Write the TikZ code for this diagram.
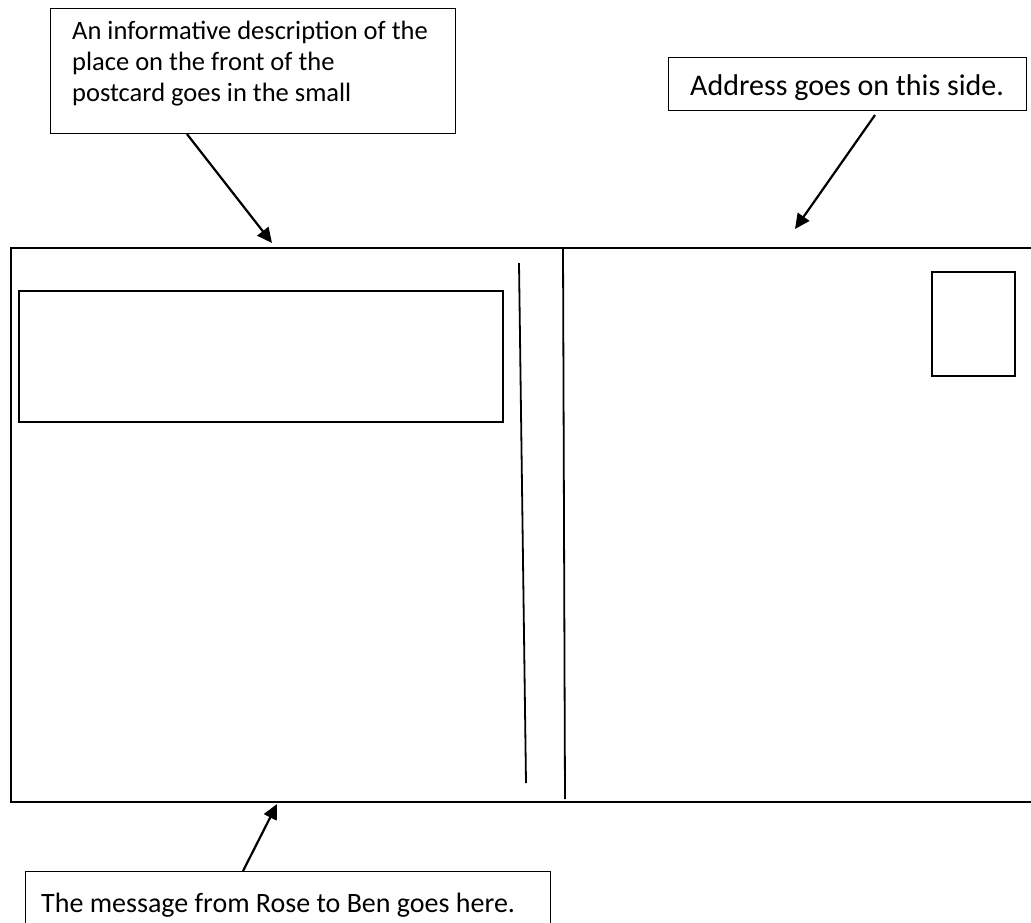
\documentclass[tikz,border=0pt]{standalone}
\usepackage{fontspec}
\setmainfont{Carlito}
\usetikzlibrary{arrows.meta,calc}
\begin{document}
\begin{tikzpicture}[x=1pt,y=-1pt,
  labelbox/.style={draw=black,line width=1.1pt,inner sep=0pt,anchor=north west},
  labeltext/.style={anchor=base west,inner sep=0pt},
  pointer/.style={line width=2.2pt,-{Triangle[length=15pt,width=14pt]}},
  cardline/.style={line width=2pt},
  thinline/.style={line width=1.8pt}]
\useasboundingbox (0,0) rectangle (1031,922);

% label boxes
\node[labelbox,minimum width=405pt,minimum height=125pt] (descbox) at (50,8) {};
\node[labeltext,font=\fontsize{26.5}{31}\selectfont] (desc1) at (72,39) {An informative description of the};
\node[labeltext,font=\fontsize{26.5}{31}\selectfont] (desc2) at (72,70) {place on the front of the};
\node[labeltext,font=\fontsize{26.5}{31}\selectfont] (desc3) at (72,101) {postcard goes in the small};

\node[labelbox,minimum width=358pt,minimum height=53pt] (addrbox) at (668,57) {};
\node[labeltext,font=\fontsize{30}{34}\selectfont] (addrtext) at (690,95) {Address goes on this side.};

\node[labelbox,minimum width=525pt,minimum height=90pt] (msgbox) at (25,871) {};
\node[labeltext,font=\fontsize{28}{32}\selectfont] (msgtext) at (41,912) {The message from Rose to Ben goes here.};

% postcard outline (open on the right)
\coordinate (cardtr) at (1031,248);
\coordinate (cardtl) at (11,248);
\coordinate (cardbl) at (11,802);
\coordinate (cardbr) at (1031,802);
\draw[cardline] (cardtr) -- (cardtl) -- (cardbl) -- (cardbr);

% description panel and stamp square
\node[draw=black,thinline,inner sep=0pt,anchor=north west,minimum width=484pt,minimum height=131pt] (panel) at (18,290) {};
\node[draw=black,thinline,inner sep=0pt,anchor=north west,minimum width=83pt,minimum height=104pt] (stamp) at (931,271) {};

% dividing lines
\coordinate (div1top) at (519,263);
\coordinate (div1bot) at (526,783);
\coordinate (div2top) at (563,248);
\coordinate (div2bot) at (565,799);
\draw[thinline] (div1top) -- (div1bot);
\draw[thinline] (div2top) -- (div2bot);

% pointers
\coordinate (descfoot) at ($(descbox.south west)+(137,0)$);
\coordinate (desctip) at (272,243);
\draw[pointer] (descfoot) -- (desctip);

\coordinate (addrfoot) at (875,115);
\coordinate (addrtip) at (795,229);
\draw[pointer] (addrfoot) -- (addrtip);

\coordinate (msgfoot) at ($(msgbox.north west)+(218,0)$);
\coordinate (msgtip) at (277,804);
\draw[pointer] (msgfoot) -- (msgtip);
\end{tikzpicture}
\end{document}
